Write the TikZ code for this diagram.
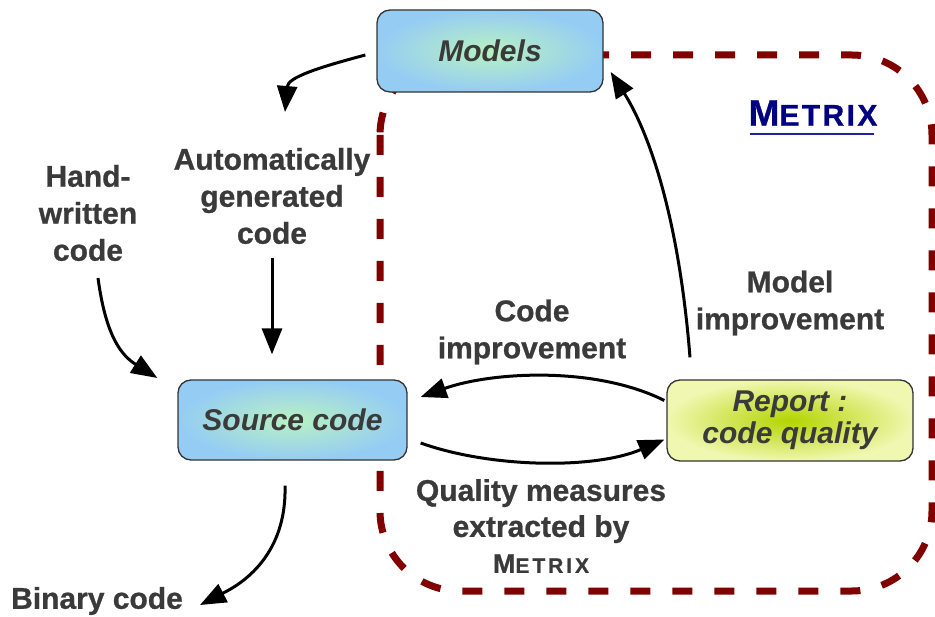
\documentclass[tikz,border=0pt]{standalone}
\usepackage{fontspec}
\setmainfont{Liberation Sans}[BoldFeatures={FakeBold=0.8}]
\usetikzlibrary{arrows.meta,calc}
\definecolor{txt}{HTML}{3A3A3A}
\definecolor{dred}{HTML}{800000}
\definecolor{navy}{HTML}{000080}
\definecolor{uline}{HTML}{2020A0}
\definecolor{bluein}{HTML}{B8F2C2}
\definecolor{blueout}{HTML}{95CCF4}
\definecolor{yellowin}{HTML}{B4D400}
\definecolor{yellowout}{HTML}{F0F7B0}
\newcommand{\mxsc}[3]{{\fontsize{#1}{#1}\selectfont\addfontfeature{LetterSpace=#3}M}{\fontsize{#2}{#2}\selectfont\addfontfeature{LetterSpace=#3}ETRIX}}
\begin{document}
\begin{tikzpicture}[x=1pt,y=-1pt,
  lbl/.style={text=txt, font=\fontsize{30}{37}\selectfont\bfseries, align=center, inner sep=0pt},
  boxnode/.style={draw=black!80, line width=1.3pt, rounded corners=13pt, text=txt,
    font=\fontsize{30}{32}\selectfont\bfseries\itshape, align=center, inner sep=0pt},
  bluebox/.style={boxnode, inner color=bluein, outer color=blueout},
  greenbox/.style={boxnode, inner color=yellowin, outer color=yellowout},
  arr/.style={draw=black, line width=3pt, -{Triangle[length=26pt,width=20pt]}},
  region/.style={draw=dred, line width=7pt, dash pattern=on 20pt off 22pt, rounded corners=80pt}]
\useasboundingbox (0,0) rectangle (935,617);

% METRIX region
\draw[region] (380,55) rectangle (932,591);

% boxes
\node[bluebox, minimum width=226pt, minimum height=82pt] (models) at (490,51) {Models};
\node[bluebox, minimum width=229pt, minimum height=80pt] (src) at (292.5,420) {Source code};
\node[greenbox, minimum width=246pt, minimum height=81pt] (report) at (790,420.5) {Report :\\code quality};

% labels
\node[lbl] (hand) at (88,213) {Hand-\\written\\code};
\node[lbl] (auto) at (272,196) {Automatically\\generated\\code};
\node[lbl] (codeimp) at (532,332) {Code\\improvement};
\node[lbl] (modimp) at (790,303) {Model\\improvement};
\node[lbl, font=\fontsize{30}{36}\selectfont\bfseries] (qual) at (541,526) {Quality measures\\extracted by\\\mxsc{27}{21}{14}};
\node[lbl] (bin) at (97,601) {Binary code};
\node[inner sep=0pt, text=navy, font=\bfseries] (title) at (813,113) {\mxsc{37}{30}{8}};
\draw[draw=uline, line width=2pt] ($(title.base west)+(2,8)$) -- ($(title.base east)+(-4,8)$);

% connectors
\draw[arr] ($(models.west)+(-11,4)$) .. controls +(-45,12) and +(3,-35) .. ($(auto.center)+(13,-84)$);
\draw[arr] ($(auto.center)+(0,62)$) -- ($(src.north)+(-20.5,-25)$);
\draw[arr] ($(hand.center)+(10,65)$) .. controls +(8,60) and +(-35,-22) .. ($(src.west)+(-20,-42)$);
\draw[arr] ($(src.south)+(-7.5,25)$) .. controls +(2,75) and +(35,-18) .. ($(bin.center)+(103,4)$);
\draw[arr] ($(report.west)+(-2,-20)$) .. controls +(-70,-35) and +(70,-25) .. ($(src.east)+(13,-23)$);
\draw[arr] ($(src.east)+(13,23)$) .. controls +(70,25) and +(-70,30) .. ($(report.west)+(-2,19)$);
\draw[arr] ($(report.north)+(-100,-22)$) .. controls +(-12,-150) and +(35,55) .. ($(models.east)+(7,21)$);
\end{tikzpicture}
\end{document}
